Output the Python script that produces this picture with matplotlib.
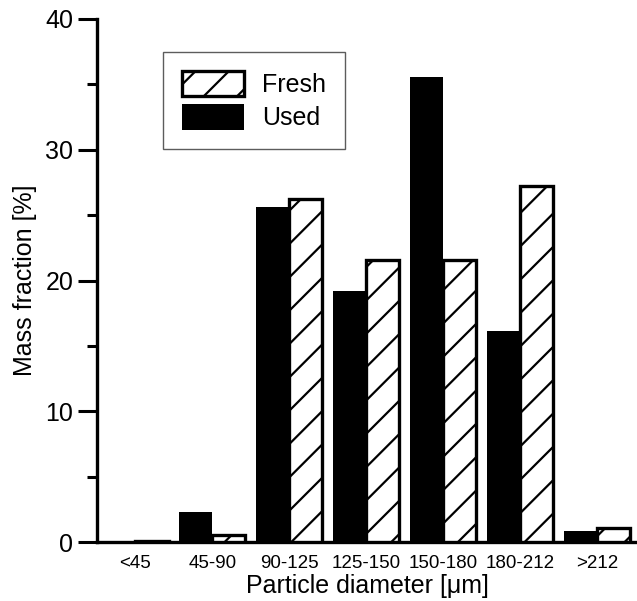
import matplotlib
matplotlib.use("Agg")
import matplotlib.pyplot as plt
import numpy as np

categories = ["<45", "45-90", "90-125", "125-150", "150-180", "180-212", ">212"]
used = [0.0, 2.3, 25.6, 19.2, 35.6, 16.1, 0.85]
fresh = [0.05, 0.5, 26.2, 21.6, 21.6, 27.2, 1.05]

plt.rcParams['font.family'] = ['Liberation Sans', 'DejaVu Sans']
plt.rcParams['hatch.linewidth'] = 1.6

fig = plt.figure(figsize=(6.37, 6.01), dpi=100)
ax = fig.add_axes([97/637, 59/601, 540/637, 523/601])

x = np.arange(len(categories))
w = 0.43
ax.bar(x - w/2, used, width=w, color='black', edgecolor='black', linewidth=0, label='Used', zorder=2)
ax.bar(x + w/2, fresh, width=w, facecolor='white', edgecolor='black', hatch='/', linewidth=2.4, label='Fresh', zorder=3)

ax.set_xlim(-0.5, 6.52)
ax.set_ylim(0, 40)
ax.set_yticks([0, 10, 20, 30, 40])
ax.set_yticks([5, 15, 25, 35], minor=True)
ax.set_xticks(x)
ax.set_xticklabels(categories, fontsize=13.5)
ax.tick_params(axis='y', which='major', length=14, width=2.2, labelsize=18, pad=3, direction='out')
ax.tick_params(axis='y', which='minor', length=7.5, width=2.2, direction='out')
ax.tick_params(axis='x', length=0, pad=9)

for s in ['top', 'right']:
    ax.spines[s].set_visible(False)
for s in ['left', 'bottom']:
    ax.spines[s].set_linewidth(2.4)

ax.set_xlabel("Particle diameter [μm]", fontsize=18, labelpad=2)
ax.set_ylabel("Mass fraction [%]", fontsize=18, labelpad=6)

handles, labels = ax.get_legend_handles_labels()
leg = ax.legend([handles[1], handles[0]], [labels[1], labels[0]],
                loc='upper left', bbox_to_anchor=(0.122, 0.937), borderaxespad=0,
                fontsize=18, handlelength=2.5, handleheight=1.2, labelspacing=0.28,
                handletextpad=0.72, borderpad=0.75, fancybox=False, frameon=True)
leg.get_frame().set_edgecolor('#333333')
leg.get_frame().set_linewidth(1.0)

fig.savefig("out.png", dpi=100)
